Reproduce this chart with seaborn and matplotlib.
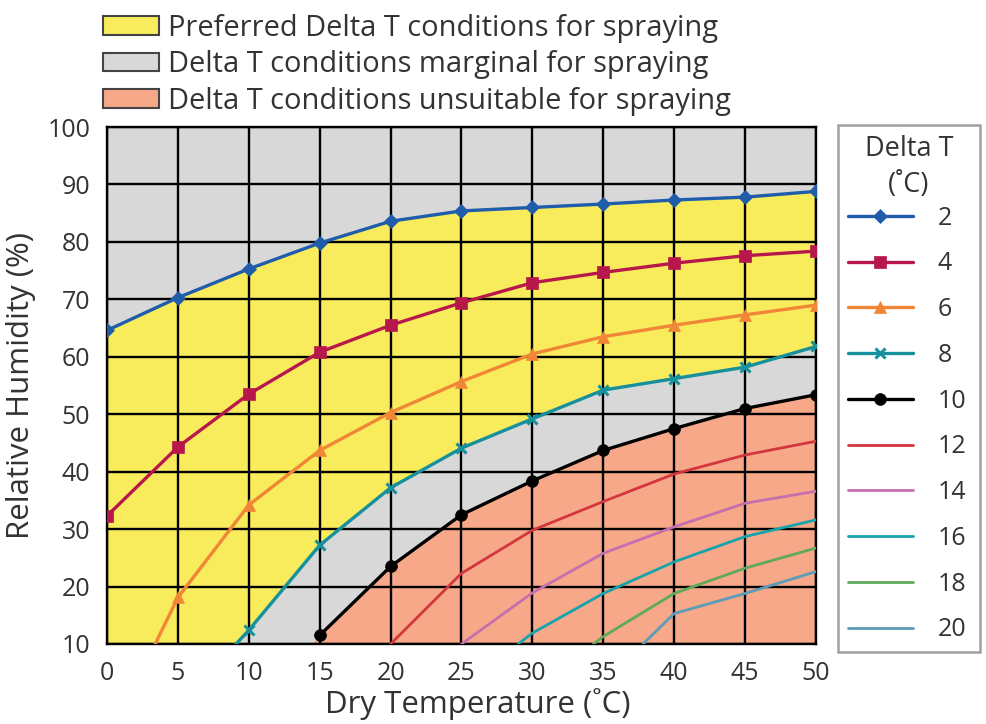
import numpy as np
import matplotlib
matplotlib.use("Agg")
import matplotlib.pyplot as plt
from matplotlib.patches import Patch
import seaborn as sns

# Delta T curves: dry temperature (C) -> relative humidity (%)
t2 = [0, 5, 10, 15, 20, 25, 30, 35, 40, 45, 50]
rh2 = [64.6, 70.3, 75.3, 79.8, 83.6, 85.4, 86.0, 86.6, 87.3, 87.8, 88.8]

t4 = [0, 5, 10, 15, 20, 25, 30, 35, 40, 45, 50]
rh4 = [32.3, 44.3, 53.5, 60.8, 65.5, 69.4, 72.9, 74.7, 76.3, 77.6, 78.4]

t6 = [3.4, 5, 10, 15, 20, 25, 30, 35, 40, 45, 50]
rh6 = [10.0, 18.1, 34.2, 43.7, 50.3, 55.7, 60.5, 63.5, 65.5, 67.3, 69.0]

t8 = [9.1, 10, 15, 20, 25, 30, 35, 40, 45, 50]
rh8 = [10.0, 12.4, 27.2, 37.2, 44.1, 49.2, 54.2, 56.2, 58.2, 61.8]

t10 = [15, 20, 25, 30, 35, 40, 45, 50]
rh10 = [11.5, 23.5, 32.5, 38.4, 43.7, 47.5, 51.0, 53.4]

t12 = [20, 25, 30, 35, 40, 45, 50]
rh12 = [10.0, 22.3, 29.8, 34.8, 39.6, 42.9, 45.3]

t14 = [25, 30, 35, 40, 45, 50]
rh14 = [10.0, 18.9, 25.8, 30.4, 34.5, 36.6]

t16 = [29.0, 30, 35, 40, 45, 50]
rh16 = [10.0, 11.9, 18.8, 24.3, 28.7, 31.6]

t18 = [34.3, 35, 40, 45, 50]
rh18 = [10.0, 11.3, 18.8, 23.2, 26.7]

t20 = [37.8, 40, 45, 50]
rh20 = [10.0, 15.3, 18.8, 22.6]

# where the unsuitable zone meets the bottom axis
t10_edge = [14.4]
rh10_edge = [10.0]

zone_labels = ["Preferred Delta T conditions for spraying",
               "Delta T conditions marginal for spraying",
               "Delta T conditions unsuitable for spraying"]

yellow = "#f8ec5c"
grey = "#d9d8d8"
salmon = "#f6a888"
txt = "#333333"

sns.set_style("white")
plt.rcParams["font.family"] = ["Open Sans", "DejaVu Sans"]
plt.rcParams["text.color"] = txt

fig = plt.figure(figsize=(9.87, 7.24), dpi=100)
ax = fig.add_axes([0.1084, 0.1105, 0.7183, 0.714])

# zone fills
xf = np.linspace(0, 50, 1001)
c2 = np.interp(xf, t2, rh2)
c8 = np.interp(xf, t8, rh8, left=10)
c10 = np.interp(xf, t10_edge + t10, rh10_edge + rh10, left=10)
ax.fill_between(xf, c2, 100, color=grey, lw=0, zorder=0)
ax.fill_between(xf, c8, c2, color=yellow, lw=0, zorder=0)
ax.fill_between(xf, c10, c8, color=grey, lw=0, zorder=0)
ax.fill_between(xf, 10, c10, color=salmon, lw=0, zorder=0)

curves = [
    (t2, rh2, "2", "#1f5dab", "D", 7.5, 0),
    (t4, rh4, "4", "#b8174c", "s", 8.5, 0),
    (t6, rh6, "6", "#f08636", "^", 8, 1),
    (t8, rh8, "8", "#15909c", "x", 7.5, 1),
    (t10, rh10, "10", "#000000", "o", 8.5, 0),
    (t12, rh12, "12", "#d3363e", None, 0, 0),
    (t14, rh14, "14", "#c66fae", None, 0, 0),
    (t16, rh16, "16", "#17a3ab", None, 0, 0),
    (t18, rh18, "18", "#5ea95c", None, 0, 0),
    (t20, rh20, "20", "#5b9cb9", None, 0, 0),
]
for t, rh, lab, col, mk, ms, skip in curves:
    kw = {}
    if mk:
        kw = dict(marker=mk, markersize=ms, markeredgewidth=2.2 if mk == "x" else 0.5,
                  markeredgecolor=col, markevery=list(range(skip, len(t))))
    sns.lineplot(x=t, y=rh, color=col, lw=2.4 if mk else 2.0, label=lab,
                 ax=ax, zorder=3, sort=False, **kw)

ax.set_xlim(0, 50)
ax.set_ylim(10, 100)
ax.set_xticks(range(0, 51, 5))
ax.set_yticks(range(10, 101, 10))
ax.grid(True, color="black", lw=1.7)
ax.set_axisbelow(False)
for s in ax.spines.values():
    s.set_color("black")
    s.set_linewidth(1.7)
ax.tick_params(direction="out", length=7, width=1.7, color="black",
               labelsize=18, labelcolor=txt, pad=5)
ax.set_xlabel("Dry Temperature (˚C)", fontsize=22.5, color=txt)
ax.set_ylabel("Relative Humidity (%)", fontsize=22.5, color=txt, labelpad=8)
ax.xaxis.set_label_coords(0.5226, -0.086)

leg = ax.legend(title="Delta T\n(˚C)", loc="upper left",
                bbox_to_anchor=(0.849, 0.827, 0.144, 0.0),
                bbox_transform=fig.transFigure, mode="expand",
                fontsize=18, title_fontsize=19.5, frameon=True, fancybox=False,
                edgecolor="#888888", borderaxespad=0, handlelength=2.6,
                handletextpad=1.0, labelspacing=0.83, borderpad=0.4)
leg.get_frame().set_linewidth(1.8)
leg.get_title().set_color(txt)
leg.get_title().set_multialignment("center")
leg.get_title().set_linespacing(1.35)
leg._legend_box.sep = 5

zone_handles = [Patch(facecolor=c, edgecolor="#444444", lw=1.5)
                for c in (yellow, grey, salmon)]
fig.legend(zone_handles, zone_labels, loc="upper left",
           bbox_to_anchor=(0.101, 0.985), frameon=False, fontsize=20.9,
           handlelength=1.95, handleheight=0.62, handletextpad=0.3,
           labelspacing=0.26, borderpad=0.1, borderaxespad=0)

fig.savefig("out.png", dpi=100)
